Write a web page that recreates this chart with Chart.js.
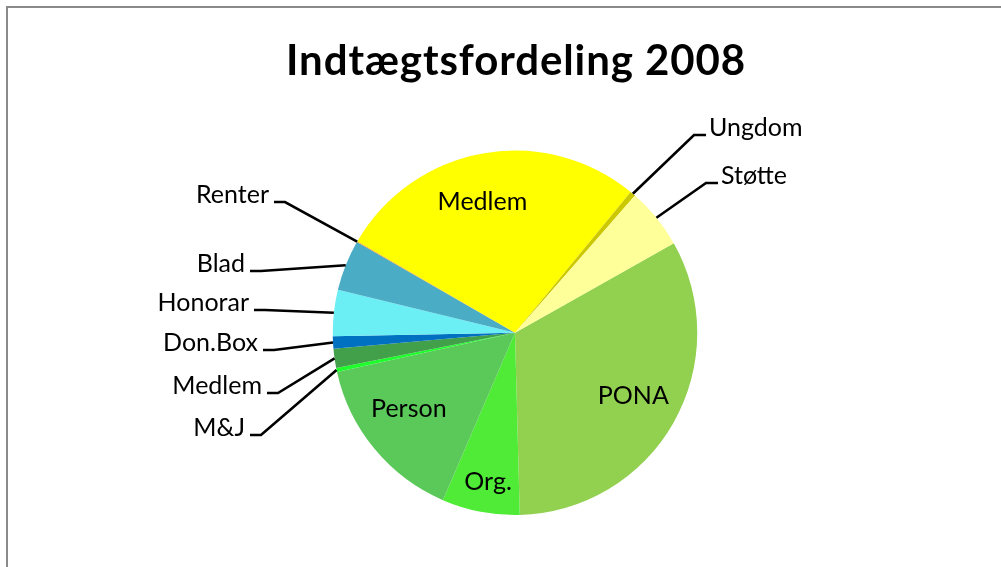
<!DOCTYPE html>
<html>
<head>
<meta charset="utf-8">
<script src="https://cdn.jsdelivr.net/npm/chart.js@4"></script>
<style>
  html, body { margin: 0; padding: 0; background: #fff; }
  #wrap { position: relative; width: 1001px; height: 567px; }
</style>
</head>
<body>
<div id="wrap"><canvas id="chart" width="1001" height="567"></canvas></div>
<script>
// slices, clockwise starting at PONA
const labels = ['PONA', 'Org.', 'Person', 'M&J', 'Medlem', 'Don.Box', 'Honorar', 'Blad', 'Renter', 'Medlem', 'Ungdom', 'Støtte'];
const values = [32.8, 6.9, 15.1, 0.35, 1.7, 1.1, 4.1, 4.5, 0.1, 27.6, 0.5, 5.4];
const colors = ['#92D050', '#4FEB37', '#5BC95A', '#1CFF2A', '#43A04A', '#0070C0', '#6CEFF4', '#4BACC6', '#F0A030', '#FFFF00', '#CCC800', '#FFFF99'];
const titleText = 'Indtægtsfordeling 2008';

// label placement: inside (radius factor, small nudge) or outside (text anchor)
const labelPos = [
  { inside: 0.74, dx: 1, dy: -3 },
  { inside: 0.84, dx: 2, dy: -1 },
  { inside: 0.72, dx: -5, dy: -7 },
  { x: 245, y: 428, side: 'left' },
  { x: 262, y: 386, side: 'left' },
  { x: 258, y: 343, side: 'left' },
  { x: 249, y: 303, side: 'left' },
  { x: 245, y: 264, side: 'left' },
  { x: 269, y: 195, side: 'left' },
  { inside: 0.73, dx: -9, dy: 0 },
  { x: 709, y: 128, side: 'right' },
  { x: 721, y: 176, side: 'right' }
];

const labelFont = '25px Lato';

const framePlugin = {
  id: 'frame',
  beforeDraw(chart) {
    const c = chart.ctx;
    c.save();
    c.strokeStyle = '#8a8a8a';
    c.lineWidth = 2;
    c.strokeRect(7, 7, 1100, 700);
    // title
    c.fillStyle = '#000';
    c.font = 'bold 42px Lato';
    c.letterSpacing = '0.9px';
    c.textAlign = 'center';
    c.textBaseline = 'alphabetic';
    c.fillText(titleText, 516, 75);
    c.restore();
  }
};

const labelPlugin = {
  id: 'sliceLabels',
  afterDatasetsDraw(chart) {
    const c = chart.ctx;
    const meta = chart.getDatasetMeta(0);
    c.save();
    c.font = labelFont;
    c.fillStyle = '#000';
    c.strokeStyle = '#000';
    c.lineWidth = 2.6;
    meta.data.forEach((arc, i) => {
      const p = arc.getProps(['x', 'y', 'startAngle', 'endAngle', 'outerRadius'], true);
      const mid = (p.startAngle + p.endAngle) / 2;
      const pos = labelPos[i];
      if (pos.inside) {
        c.textAlign = 'center';
        c.textBaseline = 'middle';
        c.fillText(labels[i], p.x + Math.cos(mid) * p.outerRadius * pos.inside + pos.dx,
                   p.y + Math.sin(mid) * p.outerRadius * pos.inside + pos.dy);
        return;
      }
      const ex = p.x + Math.cos(mid) * p.outerRadius;
      const ey = p.y + Math.sin(mid) * p.outerRadius;
      let x1, x2;
      const ly = pos.y + 7;
      if (pos.side === 'left') {
        c.textAlign = 'right';
        x1 = pos.x + 5; x2 = pos.x + 16;
      } else {
        c.textAlign = 'left';
        x1 = pos.x - 3; x2 = pos.x - 15;
      }
      c.textBaseline = 'middle';
      c.fillText(labels[i], pos.x, pos.y);
      c.beginPath();
      c.moveTo(x1, ly);
      c.lineTo(x2, ly);
      c.lineTo(ex, ey);
      c.stroke();
    });
    c.restore();
  }
};

new Chart(document.getElementById('chart'), {
  type: 'pie',
  data: {
    labels: labels,
    datasets: [{
      data: values,
      backgroundColor: colors,
      borderWidth: 0
    }]
  },
  options: {
    responsive: false,
    animation: false,
    rotation: 60.6,
    layout: { padding: { left: 300, right: 271, top: 150.5, bottom: 52 } },
    plugins: {
      legend: { display: false },
      tooltip: { enabled: false },
      title: { display: false }
    }
  },
  plugins: [framePlugin, labelPlugin]
});
</script>
</body>
</html>
